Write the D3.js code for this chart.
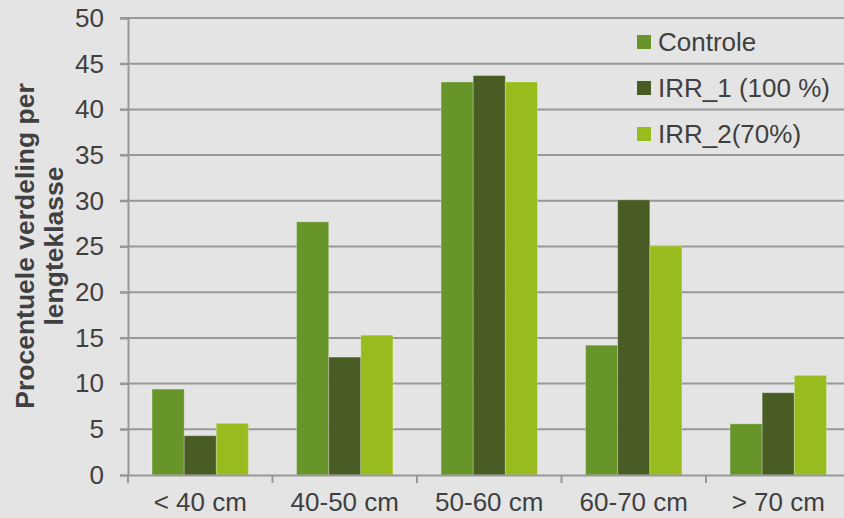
<!DOCTYPE html>
<html>
<head>
<meta charset="utf-8">
<script src="https://cdn.jsdelivr.net/npm/d3@7"></script>
<style>
  body { margin: 0; background: #e4e4e4; }
  svg { display: block; font-family: "Liberation Sans", Arial, sans-serif; }
</style>
</head>
<body>
<script>
// Data
const categories = ["< 40 cm", "40-50 cm", "50-60 cm", "60-70 cm", "> 70 cm"];
const seriesNames = ["Controle", "IRR_1 (100 %)", "IRR_2(70%)"];
const controle = [9.4, 27.7, 43.0, 14.2, 5.6];
const irr1 = [4.3, 12.9, 43.7, 30.1, 9.0];
const irr2 = [5.65, 15.3, 43.0, 25.05, 10.9];
const yTicks = [0, 5, 10, 15, 20, 25, 30, 35, 40, 45, 50];

const colors = ["#67952a", "#485c23", "#98bc1e"];
const allSeries = [controle, irr1, irr2];

const width = 844, height = 518;
const x0 = 128, x1 = 850.5, yTop = 18, yBottom = 475;
const textColor = "#404040";
const gridColor = "#989898";

const svg = d3.select("body")
    .append("svg")
    .attr("width", width)
    .attr("height", height);

svg.append("rect")
    .attr("width", width)
    .attr("height", height)
    .attr("fill", "#e4e4e4");

// scales
let xScale = d3.scaleBand()
    .domain(categories)
    .range([x0, x1])
    .paddingInner(0)
    .paddingOuter(0);

let xInner = d3.scaleBand()
    .domain(seriesNames)
    .range([0, xScale.bandwidth()])
    .paddingOuter(0.75);

let yScale = d3.scaleLinear()
    .domain([0, 50])
    .range([yBottom, yTop]);

// gridlines
svg.append("g")
    .selectAll("line")
    .data(yTicks.filter(d => d > 0))
    .enter()
    .append("line")
    .attr("x1", x0 - 8)
    .attr("x2", width)
    .attr("y1", d => yScale(d))
    .attr("y2", d => yScale(d))
    .attr("stroke", gridColor)
    .attr("stroke-width", 2);

// bars
const groups = svg.append("g")
    .selectAll("g")
    .data(allSeries)
    .enter()
    .append("g")
    .attr("fill", (d, i) => colors[i]);

groups.selectAll("rect")
    .data((d, i) => d.map((v, j) => ({ v: v, cat: categories[j], s: seriesNames[i] })))
    .enter()
    .append("rect")
    .attr("x", d => xScale(d.cat) + xInner(d.s))
    .attr("y", d => yScale(d.v))
    .attr("width", xInner.bandwidth())
    .attr("height", d => yBottom - yScale(d.v))
    .attr("stroke", "rgba(255,255,255,0.25)")
    .attr("stroke-width", 1);

// y axis
const yAxis = svg.append("g")
    .attr("transform", `translate(${x0},0)`)
    .call(d3.axisLeft(yScale).tickValues(yTicks).tickSize(8).tickPadding(16));

// x axis
const xAxis = svg.append("g")
    .attr("transform", `translate(0,${yBottom})`)
    .call(d3.axisBottom(xScale).tickSize(0));

[yAxis, xAxis].forEach(a => {
    a.select(".domain").attr("stroke", gridColor).attr("stroke-width", 2);
    a.selectAll(".tick line").attr("stroke", gridColor).attr("stroke-width", 2);
    a.selectAll("text")
        .attr("fill", textColor)
        .style("font-size", "26px")
        .style("font-family", "Liberation Sans, Arial, sans-serif");
});
xAxis.selectAll("text").attr("y", 36).attr("dy", null);

// category boundary ticks on x axis
svg.append("g")
    .selectAll("line")
    .data(categories.concat(["end"]))
    .enter()
    .append("line")
    .attr("x1", (d, i) => x0 + i * xScale.bandwidth())
    .attr("x2", (d, i) => x0 + i * xScale.bandwidth())
    .attr("y1", yBottom)
    .attr("y2", yBottom + 8)
    .attr("stroke", gridColor)
    .attr("stroke-width", 2);

// y axis title
const yTitle = svg.append("text")
    .attr("transform", "translate(0,246) rotate(-90)")
    .attr("text-anchor", "middle")
    .attr("fill", textColor)
    .style("font-size", "26.5px")
    .style("font-weight", "bold");

yTitle.append("tspan").attr("x", 0).attr("y", 34).text("Procentuele verdeling per");
yTitle.append("tspan").attr("x", 0).attr("y", 63).text("lengteklasse");

// legend
const legend = svg.append("g")
    .selectAll("g")
    .data(seriesNames)
    .enter()
    .append("g")
    .attr("transform", (d, i) => `translate(637,${35 + i * 46})`);

legend.append("rect")
    .attr("width", 14)
    .attr("height", 14)
    .attr("fill", (d, i) => colors[i]);

legend.append("text")
    .attr("x", 21)
    .attr("y", 7)
    .attr("dy", "0.36em")
    .attr("fill", textColor)
    .style("font-size", "26px")
    .text(d => d);
</script>
</body>
</html>
